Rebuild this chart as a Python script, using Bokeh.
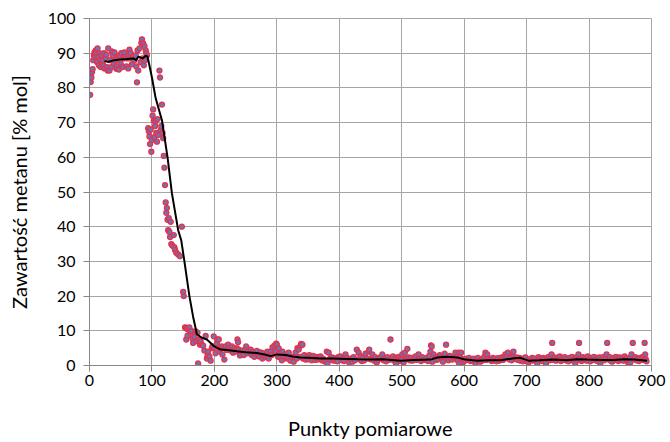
from bokeh.plotting import figure
from bokeh.models import Range1d, FixedTicker
from bokeh.embed import file_html
from bokeh.resources import INLINE

# ---- measured points (x = measurement index, y = methane content % mol) ----
seg_a_x = [1,2,3,4,5,6,7,8,9,10,11,12,13,14,15,16,17,18,19,20,21,22,23,24,26,27,28,29,30,32,33,35,36,37,39,40,42,43,44,46,47,48,50,51,53,55,56,58,59,61,62,63,64,66,67,68,70,72,74,75,76,77,78,80,82,83,84,85,86,87,88,89,90,91,92]
seg_a_y = [78.0,81.7,83.0,84.5,85.4,88.0,89.4,90.2,89.0,90.8,90.0,87.5,91.4,89.0,86.5,90.0,88.0,86.0,89.4,87.0,88.0,86.5,90.0,85.6,88.5,89.6,86.0,85.0,91.4,85.0,88.0,86.0,90.5,89.4,87.0,90.2,88.0,85.5,86.2,89.0,85.3,89.4,87.0,90.0,86.0,88.5,90.2,89.0,86.2,88.5,85.6,89.4,91.0,90.0,88.5,86.8,89.0,88.0,89.4,86.2,81.6,90.8,85.0,91.4,87.4,93.0,94.0,88.5,92.8,86.5,92.0,88.0,90.8,90.0,89.4]

seg_b_x = [94,95,96,97,98,99,100,101,102,103,104,105,106,107,108,109,110,112,113,114,115,116,117,118,119,120,121,122,123,124,125,126,127,128,129,130,131,133,135,136,137,139,142,145,148,150,151,153,154,155,156,157,159,160,162,163,165,166,168,170,172,173,174,175,177,178]
seg_b_y = [68.4,67.5,66.0,63.8,68.0,61.6,65.0,72.0,73.8,70.5,65.8,69.0,70.4,67.0,64.5,71.0,66.4,85.0,83.0,67.8,69.0,75.2,67.0,65.5,60.4,57.0,52.0,47.0,44.0,45.4,42.0,39.0,42.5,38.5,37.0,41.4,35.0,34.5,37.6,34.0,33.3,32.5,32.0,31.5,40.0,21.2,20.0,11.0,10.8,7.5,10.6,8.6,10.3,11.0,9.5,10.0,7.8,6.5,8.3,9.8,7.0,9.5,0.6,7.5,6.0,6.9]

seg_c_x = [180,182,184,186,188,189,190,192,194,196,197,199,200,202,204,205,207,208,210,212,213,215,216,218,220,222,224,226,228,230,232,234,236,237,238,239,241,243,245,247,249,251,253,255,258,260,262,264,266,268,270,272,274,277,279,281,283,285,287,290,292,293,296,298,299,300,302,303,304,306,308,309,311,314,316,318,319]
seg_c_y = [6.0,5.7,4.3,8.5,2.0,2.9,4.0,2.6,1.4,5.0,5.5,8.4,5.2,3.5,6.3,7.5,7.5,4.0,4.9,5.5,3.2,5.0,1.7,5.5,4.5,6.0,5.0,4.3,5.5,3.7,5.0,4.0,4.9,7.5,6.7,4.6,2.9,4.0,4.3,3.0,4.5,5.5,3.5,4.5,4.6,3.0,4.0,2.5,3.7,4.2,3.0,2.6,3.8,2.0,3.5,2.5,3.2,4.0,2.0,4.0,3.0,5.2,5.7,4.3,6.3,6.0,2.5,4.9,3.4,2.5,1.5,4.0,2.5,3.2,2.0,2.3,3.7]

seg_d_x = [322,324,327,329,330,332,333,335,337,338,339,341,342,344,346,348,350,352,354,356,358,360,362,364,366,368,370,372,374,376,378,380,381,383,385,387,389,391,393,395,397,399,402,404,406,408,410,412,414,416,418,421,423,425,428,431,433,434,436,438,440,442,444,447,448,450,453,455,456,458,460,462,464,466,469,471,473,475,477,479,482,484,486,488,490,491,493,495,497,498,500]
seg_d_y = [1.4,2.5,1.1,2.5,3.7,2.0,5.0,4.6,2.5,5.7,6.2,6.0,2.0,3.0,1.7,2.5,1.8,3.0,2.3,1.5,2.8,2.0,1.6,2.5,1.8,2.2,2.6,1.5,2.0,1.3,1.1,4.0,0.6,3.7,1.8,2.4,1.5,2.2,1.4,2.0,1.2,2.5,2.6,1.5,2.0,1.3,3.2,2.2,1.6,0.9,2.0,1.1,2.4,1.5,4.6,3.7,1.8,2.6,1.3,2.2,1.5,3.4,2.0,4.0,4.6,1.8,3.2,2.0,1.4,2.4,0.9,1.6,2.2,2.3,3.2,1.5,2.0,1.2,2.4,1.6,7.5,1.8,2.6,1.4,2.0,0.6,1.8,2.5,1.3,2.0,1.6]

seg_e_x = [501,503,505,507,509,511,513,515,517,520,522,524,527,529,531,533,536,538,540,542,544,546,547,548,549,551,553,555,557,559,561,563,566,568,569,571,573,575,577,579,581,583,586,588,590,591,592,594,595,598,600,602,604,606,608,610,613,615,618,620,622,624,626,628,630,632,634,636,637,639,642,644,646,648,650,652,654,656,658,660,662,664,666,668,670,672,674,676,678,679,681,684,686,688,690,692,694,696,698,700]
seg_e_y = [3.2,0.9,3.7,1.8,4.8,2.3,1.5,2.2,1.4,2.0,2.6,1.6,3.2,2.0,1.3,2.4,1.6,1.7,2.2,1.3,2.8,4.0,5.8,5.5,1.1,3.2,2.2,1.6,2.5,1.8,3.0,2.2,1.1,2.6,3.4,6.0,2.0,1.5,2.8,1.9,1.7,2.4,3.7,2.0,1.4,3.7,0.6,2.3,3.7,0.9,1.8,1.4,2.0,1.6,2.2,1.3,1.4,2.0,0.6,1.7,2.2,1.3,1.1,1.9,1.5,2.4,3.7,1.6,3.2,2.0,1.7,1.3,2.2,1.5,1.9,1.2,2.1,1.4,1.7,2.3,1.6,2.0,3.2,2.5,3.7,1.8,2.4,1.5,2.6,4.0,1.9,2.3,1.6,2.2,1.4,2.0,1.2,1.8,2.3,1.3]

seg_f_x = [703,705,707,709,711,713,715,717,719,721,723,725,727,729,731,733,735,737,739,740,741,743,745,747,749,751,753,755,757,759,761,763,765,767,769,771,773,775,777,778,780,782,783,784,786,788,790,792,794,796,798,800,802,804,806,808,810,812,814,816,818,820,822,824,826,828,829,831,833,835,837,839,841,843,845,847,849,851,853,855,857,859,861,863,865,866,868,870,872,874,876,878,880,882,884,886,888,889,890,891,892]
seg_f_y = [0.9,1.8,1.4,2.2,1.5,2.0,1.2,0.6,2.4,1.6,2.0,1.3,2.2,1.7,0.6,1.9,2.5,1.5,2.0,3.2,6.5,1.6,2.3,1.4,2.0,1.8,2.6,1.3,2.1,1.6,2.4,1.5,2.0,1.2,2.2,1.7,2.5,1.4,1.9,0.6,2.3,1.6,3.2,6.5,2.0,1.3,2.4,1.7,2.1,1.4,2.6,1.8,1.2,2.2,1.6,2.5,1.5,2.0,1.3,2.3,0.6,1.8,2.4,1.5,2.0,3.2,6.5,1.7,2.4,1.4,1.1,2.2,1.6,2.5,1.8,1.3,2.3,1.6,2.1,1.4,2.6,1.9,1.5,0.6,2.2,0.9,3.2,6.5,1.8,2.4,1.5,2.0,1.3,2.2,1.7,2.5,1.6,6.5,3.2,1.8,1.2]

# ---- smoothed trend line ----
line_x = [24,30,40,50,60,70,75,78,85,90,93,100,106,116,125,132,142,147,152,160,166,172,180,188,200,210,220,236,250,268,280,290,300,314,325,338,350,370,390,412,430,450,470,498,520,546,557,573,589,602,621,640,658,680,690,703,720,743,765,780,797,820,840,856,872,893]
line_y = [87.7,87.5,88.0,88.2,88.3,88.5,88.0,89.0,88.5,89.3,89.0,83.0,77.0,70.7,60.0,49.6,39.0,36.0,30.0,20.0,14.0,9.0,8.0,7.5,5.5,4.6,4.5,4.1,3.8,3.6,3.2,2.7,3.2,3.0,2.6,2.3,2.2,2.0,2.0,1.9,1.8,1.7,1.8,1.4,1.6,1.7,2.3,2.5,2.3,1.7,1.4,1.5,1.5,2.1,2.2,1.4,1.5,1.7,1.5,1.8,1.7,1.6,1.6,1.8,1.7,1.4]

x_ticks = [0,100,200,300,400,500,600,700,800,900]
y_ticks = [0,10,20,30,40,50,60,70,80,90,100]

pts_x = seg_a_x + seg_b_x + seg_c_x + seg_d_x + seg_e_x + seg_f_x
pts_y = seg_a_y + seg_b_y + seg_c_y + seg_d_y + seg_e_y + seg_f_y

FONT = "Lato"
GRID = "#A6A6A6"
AXIS = "#868686"

p = figure(width=670, height=442, output_backend="svg", toolbar_location=None,
           x_range=Range1d(0, 900), y_range=Range1d(0, 100),
           min_border_left=89, min_border_right=19, min_border_top=18, min_border_bottom=76)

p.background_fill_color = "white"
p.border_fill_color = "white"
p.outline_line_color = GRID

p.scatter(pts_x, pts_y, size=5, fill_color="#6a74b8", line_color="#e5324a", line_width=1.3)
p.line(line_x, line_y, line_color="black", line_width=2)

for ax in (p.xaxis[0], p.yaxis[0]):
    ax.axis_line_color = AXIS
    ax.major_tick_line_color = AXIS
    ax.major_tick_in = 0
    ax.major_tick_out = 6
    ax.minor_tick_line_color = None
    ax.major_label_text_font = FONT
    ax.major_label_text_font_size = "16px"
    ax.major_label_text_color = "black"
    ax.axis_label_text_font = FONT
    ax.axis_label_text_font_size = "20px"
    ax.axis_label_text_font_style = "normal"
    ax.axis_label_text_color = "black"

p.xaxis.ticker = FixedTicker(ticks=x_ticks)
p.yaxis.ticker = FixedTicker(ticks=y_ticks)
p.xaxis.axis_label = "Punkty pomiarowe"
p.yaxis.axis_label = "Zawartość metanu [% mol]"
p.xaxis.major_label_standoff = 3
p.xaxis.axis_label_standoff = 27
p.yaxis.major_label_standoff = 8
p.yaxis.axis_label_standoff = 14

p.xgrid.grid_line_color = GRID
p.ygrid.grid_line_color = GRID
p.xgrid.ticker = FixedTicker(ticks=x_ticks)
p.ygrid.ticker = FixedTicker(ticks=y_ticks)

open("out.html", "w").write(file_html(p, INLINE))
